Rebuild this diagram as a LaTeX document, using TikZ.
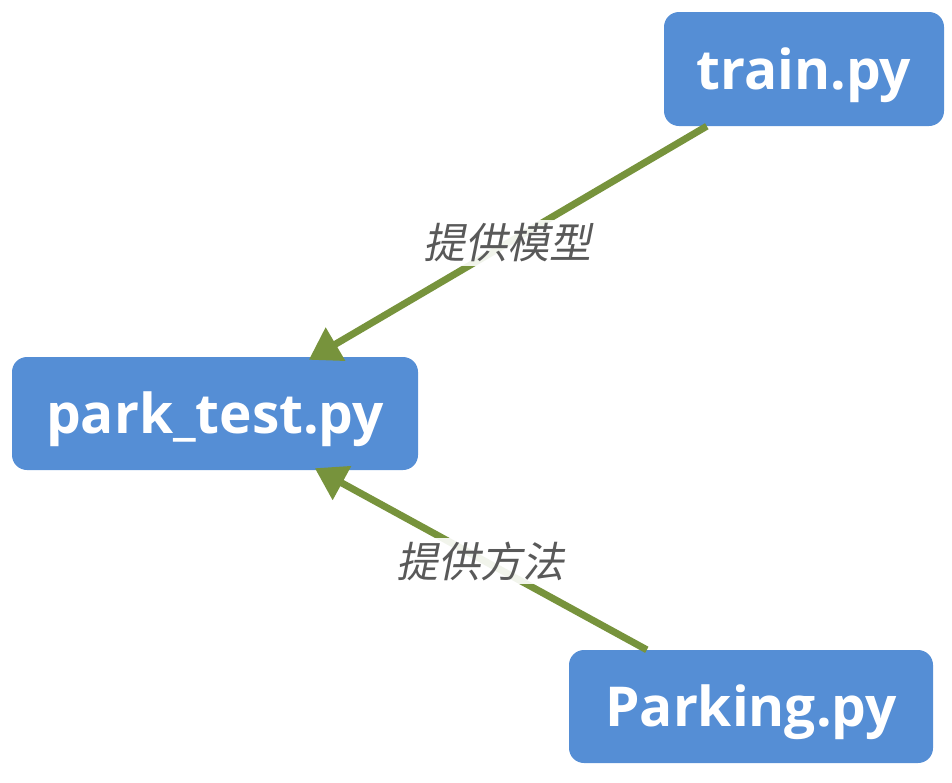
\documentclass[tikz,border=0pt]{standalone}
\usepackage{fontspec}
\usetikzlibrary{arrows.meta,calc}
\newfontfamily\boxfont{Open Sans}
\newfontfamily\cjklabel{Noto Sans CJK SC}[FakeSlant=0.2]
\definecolor{boxblue}{HTML}{558ED5}
\definecolor{arrowgreen}{HTML}{77933C}
\definecolor{labelgray}{HTML}{595959}
\tikzset{
  filebox/.style={fill=boxblue, draw=none, rounded corners=15pt, text=white,
    font=\boxfont\bfseries\fontsize{55}{66}\selectfont, inner sep=0pt,
    text height=40pt, text depth=0pt},
  linkline/.style={draw=arrowgreen, line width=7pt,
    -{Triangle[length=31pt,width=37pt]}},
  linklabel/.style={fill=white, fill opacity=0.9, text opacity=1, text=labelgray,
    font=\cjklabel\fontsize{42}{48}\selectfont, inner sep=4pt}
}
\begin{document}
\begin{tikzpicture}[x=1pt,y=-1pt]
\useasboundingbox (0,0) rectangle (952,782);
\node[filebox, minimum width=280pt, minimum height=114pt] (train) at (804,69) {train.py};
\node[filebox, minimum width=406pt, minimum height=113pt] (park) at (215,413.5) {park\_test.py};
\node[filebox, minimum width=364pt, minimum height=113pt] (parking) at (751,706.5) {Parking.py};
\coordinate (trainout) at ([xshift=43pt]train.south west);
\coordinate (parkin1) at ([xshift=297pt,yshift=-3pt]park.north west);
\coordinate (parkingout) at ([xshift=78pt]parking.north west);
\coordinate (parkin2) at ([xshift=303pt,yshift=2pt]park.south west);
\draw[linkline] (trainout) -- node[linklabel] (lab1) {提供模型} (parkin1);
\draw[linkline] (parkingout) -- node[linklabel, yshift=-2pt] (lab2) {提供方法} (parkin2);
\end{tikzpicture}
\end{document}
